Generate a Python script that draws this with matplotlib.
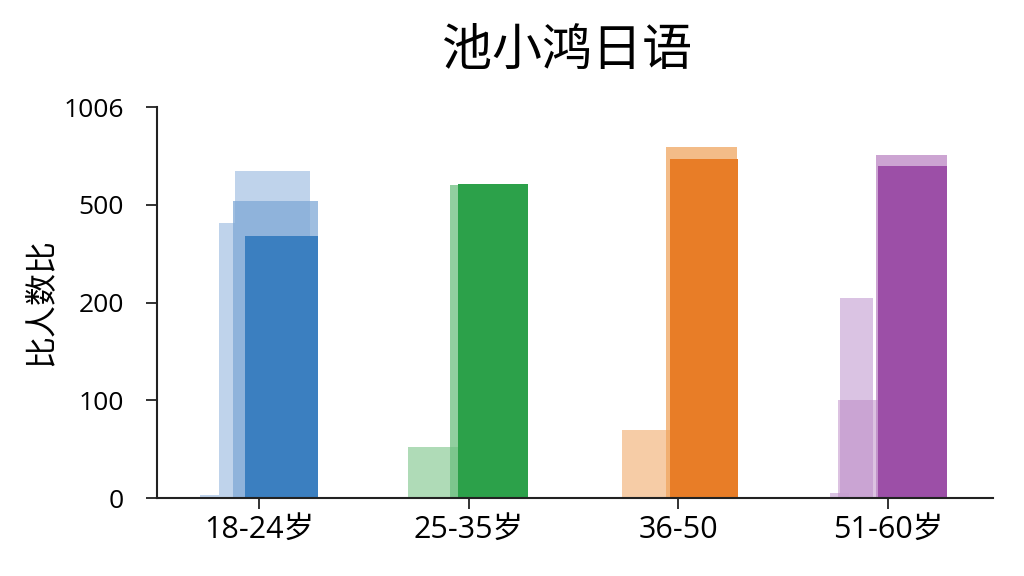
import matplotlib
matplotlib.use("Agg")
import matplotlib.pyplot as plt
import numpy as np

plt.rcParams['font.family'] = ['Open Sans', 'Noto Sans CJK SC', 'DejaVu Sans']

# data
groups = ["18-24岁", "25-35岁", "36-50", "51-60岁"]
main_vals = [405, 607, 737, 702]      # solid front bars
back_vals = [520, 600, 800, 760]      # translucent bars just behind
top_vals = [677, 0, 0, 0]             # tallest pale layer (blue only)
left_vals = [445, 52, 70, 215]        # pale shoulder on the left
left_low_vals = [0, 0, 0, 100]        # second shoulder (purple only)
stub_vals = [3, 0, 0, 5]              # tiny stubs near the baseline

tick_vals = [0, 100, 200, 500, 1006]
tick_labels = ["0", "100", "200", "500", "1006"]

dark = ["#3b7fc0", "#2ca14a", "#e87d27", "#9c4fa7"]
mid = ["#7fa9d6", "#6cbf7f", "#f0a660", "#bb86c4"]
pale = ["#b8cfe9", "#a6d7b0", "#f5c79c", "#d6bde0"]

# the value axis is evenly spaced between uneven ticks
tick_pos = np.arange(len(tick_vals))
def fwd(v):
    return np.interp(v, tick_vals, tick_pos)
def inv(p):
    return np.interp(p, tick_pos, tick_vals)

fig = plt.figure(figsize=(10.24, 5.76), dpi=100)
ax = fig.add_axes([157 / 1024, 78 / 576, 836 / 1024, 391 / 576])
ax.set_yscale('function', functions=(fwd, inv))

x = np.arange(len(groups))

# stubs
stub_left = np.array([-0.28, -0.29, -0.28, -0.275])
ax.bar(x + stub_left, stub_vals, 0.09, align='edge', color=pale, alpha=0.9, linewidth=0)
# pale shoulders
left_start = np.array([-0.19, -0.29, -0.267, -0.229])
left_end = np.array([-0.114, -0.052, -0.038, -0.07])
ax.bar(x + left_start, left_vals, left_end - left_start, align='edge',
       color=pale, alpha=0.9, linewidth=0)
ax.bar(x - 0.238, left_low_vals, 0.19, align='edge', color=mid, alpha=0.5, linewidth=0)
# tallest pale layer
ax.bar(x - 0.114, top_vals, 0.357, align='edge', color=pale, alpha=0.9, linewidth=0)
# translucent back layer
back_left = np.array([-0.124, -0.09, -0.06, -0.06])
ax.bar(x + back_left, back_vals, 0.281 - back_left, align='edge',
       color=mid, alpha=0.75, linewidth=0)
# solid front bars
main_left = np.array([-0.067, -0.052, -0.038, -0.048])
ax.bar(x + main_left, main_vals, 0.283 - main_left, align='edge', color=dark, linewidth=0)

ax.set_xlim(-0.486, 3.5)
ax.set_ylim(0, 1006)
ax.set_xticks(x)
ax.set_xticklabels(groups, fontsize=22)
ax.set_yticks(tick_vals)
ax.set_yticklabels(tick_labels, fontsize=19)
ax.minorticks_off()
ax.tick_params(axis='both', length=8, width=1.3, color='#222222')
ax.tick_params(axis='x', pad=4)
ax.tick_params(axis='y', pad=16)

for side in ['top', 'right']:
    ax.spines[side].set_visible(False)
for side in ['left', 'bottom']:
    ax.spines[side].set_linewidth(1.5)
    ax.spines[side].set_color('#222222')

ax.set_ylabel("比人数比", fontsize=23)
ax.yaxis.set_label_coords(-0.118, 0.5)
fig.text(567 / 1024, 1 - 52 / 576, "池小鸿日语", fontsize=36, ha='center', va='center')

fig.savefig("out.png", dpi=100, facecolor='white')
